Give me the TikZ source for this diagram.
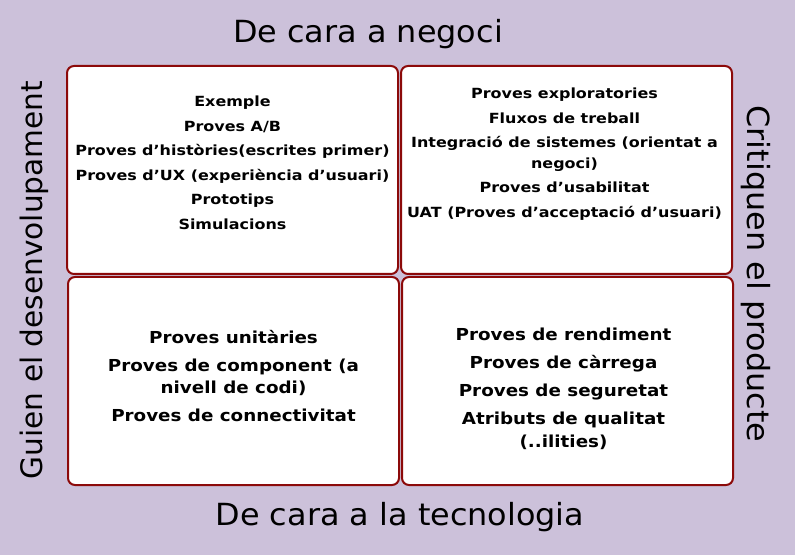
\documentclass[tikz,border=0pt]{standalone}
\usepackage{fontspec}
\setmainfont{DejaVu Sans}
\newfontfamily\upperfont{DejaVu Sans Bold}[FakeStretch=1.14]
\newfontfamily\lowerfont{DejaVu Sans Bold}[FakeStretch=1.11]
\newfontfamily\sidefont{DejaVu Sans}[FakeStretch=1.045]
\usetikzlibrary{positioning}
\definecolor{lilac}{RGB}{204,193,218}
\definecolor{rim}{RGB}{140,10,10}

\begin{document}
\begin{tikzpicture}[x=1pt, y=1pt, node distance=1pt and 1pt,
  quad/.style={draw=rim, line width=2pt, fill=white, rounded corners=7pt,
    minimum width=331pt, minimum height=208pt, inner sep=0pt},
  side/.style={font=\sidefont\fontsize{30.5}{34}\selectfont, inner sep=0pt, anchor=base},
  upper/.style={font=\upperfont\fontsize{14}{24.5}\selectfont, align=center, inner sep=0pt},
  lower/.style={font=\lowerfont\fontsize{16.5}{28}\selectfont, align=center, inner sep=0pt}]

% Background
\fill[lilac] (0,0) rectangle (795,555);
\useasboundingbox (0,0) rectangle (795,555);

% Quadrants
\node (tl) [quad] at (232.5,385) {};
\node (tr) [quad, right=of tl] {};
\node (bl) [quad, below=of tl, xshift=1pt] {};
\node (br) [quad, right=of bl] {};

% Quadrant texts
\node (tlitems) [upper, below=31pt of tl.north] {Exemple\\
  Proves A/B\\
  Proves d’històries(escrites primer)\\
  Proves d’UX (experiència d’usuari)\\
  Prototips\\
  Simulacions};
\node (tritems) [upper, below=23pt of tr.north, xshift=-2pt] {Proves exploratories\\
  Fluxos de treball\\
  Integració de sistemes (orientat a\\[-4pt]
  negoci)\\
  Proves d’usabilitat\\
  UAT (Proves d’acceptació d’usuari)};
\node (blitems) [lower, below=54pt of bl.north] {Proves unitàries\\
  Proves de component (a\\[-6pt]
  nivell de codi)\\
  Proves de connectivitat};
\node (britems) [lower, below=52pt of br.north, xshift=-4pt] {Proves de rendiment\\
  Proves de càrrega\\
  Proves de seguretat\\
  Atributs de qualitat\\[-5pt]
  (..ilities)};

% Axis labels
\node (business) [side] at (368,512) {De cara a negoci};
\node (tech) [side] at (400,30) {De cara a la tecnologia};
\node (guide) [side, font=\fontsize{29.6}{34}\selectfont, rotate=90] at (42,275) {Guien el desenvolupament};
\node (critique) [side, rotate=-90] at (747,281) {Critiquen el producte};

\end{tikzpicture}
\end{document}
